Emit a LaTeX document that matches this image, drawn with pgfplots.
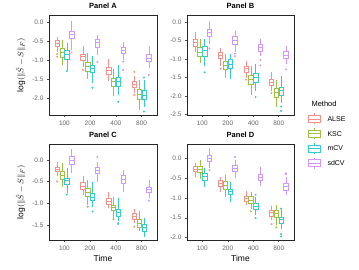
\documentclass[border=0pt]{standalone}
\usepackage{pgfplots}
\pgfplotsset{compat=1.18}
\usepgfplotslibrary{statistics}
\usepackage{fontspec}
\setmainfont{Liberation Sans}
\setsansfont{Liberation Sans}
\definecolor{cA0}{HTML}{F8766D}
\definecolor{cK0}{HTML}{7CAE00}
\definecolor{cM0}{HTML}{00BFC4}
\definecolor{cS0}{HTML}{C77CFF}
\colorlet{cA}{cA0!80!white}
\colorlet{cK}{cK0!75!white}
\colorlet{cM}{cM0!80!white}
\colorlet{cS}{cS0!80!white}
\pgfplotsset{
 panel/.style={scale only axis, width=108pt, anchor=south west,
  xmin=0.4, xmax=4.6, xtick={1,2,3,4}, xticklabels={100,200,400,800},
  tick align=outside, major tick length=2pt, xtick pos=bottom, ytick pos=left,
  tick style={color=black!70, line width=0.5pt},
  axis line style={black!85, line width=0.8pt},
  ticklabel style={font=\fontsize{6.5}{7}\selectfont, text=black!60},
  /pgf/number format/assume math mode=true,
  yticklabel style={/pgf/number format/fixed, /pgf/number format/fixed zerofill, /pgf/number format/precision=1},
  title style={font=\fontsize{7.5}{8}\selectfont\bfseries, yshift=-3pt},
  xlabel style={font=\fontsize{8.5}{9}\selectfont, yshift=2pt},
  ylabel style={font=\fontsize{8.5}{9}\selectfont, yshift=0pt},
  boxplot/draw direction=y, boxplot/box extend=0.17, boxplot/whisker extend=0,
 }
}
\newcommand{\bp}[8]{\addplot[draw=#2, fill=white, line width=0.55pt, mark=*, mark size=0.7pt, mark options={draw=#2, fill=#2, solid},
  boxplot prepared={draw position=#1, lower whisker=#3, lower quartile=#4, median=#5, upper quartile=#6, upper whisker=#7}] coordinates {#8};}
\begin{document}
\begin{tikzpicture}
\useasboundingbox (0,0) rectangle (359pt,270pt);
% Panel A
\begin{axis}[panel, at={(49pt,155pt)}, height=100pt, ymin=-2.44, ymax=0.2, ytick={-2,-1.5,-1,-0.5,0}, title={Panel A}, ylabel={$\log(\|\hat{S}-S\|_F)$}]
\bp{0.719}{cA}{-0.79}{-0.63}{-0.55}{-0.48}{-0.37}{(0,-0.83)(0,-0.9)}
\bp{0.906}{cK}{-1.12}{-0.92}{-0.78}{-0.68}{-0.46}{}
\bp{1.094}{cM}{-1.25}{-0.97}{-0.83}{-0.72}{-0.55}{(0,-1.28)}
\bp{1.281}{cS}{-0.72}{-0.41}{-0.31}{-0.22}{0.03}{(0,-0.79)}
\bp{1.719}{cA}{-1.16}{-0.99}{-0.9}{-0.83}{-0.62}{(0,-1.25)}
\bp{1.906}{cK}{-1.5}{-1.28}{-1.16}{-1.06}{-0.81}{}
\bp{2.094}{cM}{-1.59}{-1.32}{-1.21}{-1.12}{-0.88}{(0,-1.72)}
\bp{2.281}{cS}{-0.85}{-0.65}{-0.53}{-0.44}{-0.33}{(0,-1.04)}
\bp{2.719}{cA}{-1.53}{-1.36}{-1.27}{-1.18}{-0.97}{}
\bp{2.906}{cK}{-1.94}{-1.67}{-1.56}{-1.47}{-1.23}{}
\bp{3.094}{cM}{-1.91}{-1.67}{-1.54}{-1.44}{-1.12}{(0,-2.09)}
\bp{3.281}{cS}{-0.99}{-0.81}{-0.74}{-0.66}{-0.5}{(0,-1.03)(0,-1.25)}
\bp{3.719}{cA}{-1.87}{-1.71}{-1.63}{-1.56}{-1.41}{(0,-1.3)(0,-1.91)}
\bp{3.906}{cK}{-2.31}{-2.03}{-1.89}{-1.76}{-1.52}{}
\bp{4.094}{cM}{-2.22}{-2.03}{-1.91}{-1.8}{-1.52}{(0,-1.45)(0,-2.35)}
\bp{4.281}{cS}{-1.21}{-1.03}{-0.93}{-0.83}{-0.63}{(0,-1.38)}
\end{axis}
% Panel B
\begin{axis}[panel, at={(187pt,155pt)}, width=107pt, height=100pt, ymin=-2.52, ymax=0.2, ytick={-2.5,-2,-1.5,-1,-0.5,0}, title={Panel B}]
\bp{0.719}{cA}{-0.82}{-0.64}{-0.55}{-0.46}{-0.27}{}
\bp{0.906}{cK}{-1.1}{-0.92}{-0.81}{-0.69}{-0.44}{}
\bp{1.094}{cM}{-1.19}{-0.92}{-0.75}{-0.66}{-0.44}{(0,-1.36)}
\bp{1.281}{cS}{-0.6}{-0.38}{-0.27}{-0.18}{0.05}{(0,-0.71)}
\bp{1.719}{cA}{-1.19}{-0.99}{-0.9}{-0.81}{-0.69}{(0,-1.26)}
\bp{1.906}{cK}{-1.51}{-1.28}{-1.16}{-1.05}{-0.87}{}
\bp{2.094}{cM}{-1.54}{-1.26}{-1.14}{-1.01}{-0.87}{}
\bp{2.281}{cS}{-0.82}{-0.6}{-0.5}{-0.39}{-0.23}{(0,-0.85)(0,-0.92)}
\bp{2.719}{cA}{-1.51}{-1.36}{-1.26}{-1.19}{-1.05}{(0,-1.56)}
\bp{2.906}{cK}{-1.97}{-1.69}{-1.56}{-1.45}{-1.19}{}
\bp{3.094}{cM}{-1.88}{-1.63}{-1.49}{-1.39}{-1.14}{(0,-2.03)}
\bp{3.281}{cS}{-0.92}{-0.78}{-0.69}{-0.6}{-0.44}{(0,-1.03)(0,-1.17)}
\bp{3.719}{cA}{-1.88}{-1.72}{-1.63}{-1.56}{-1.36}{(0,-1.92)}
\bp{3.906}{cK}{-2.29}{-2.03}{-1.9}{-1.79}{-1.56}{}
\bp{4.094}{cM}{-2.2}{-1.97}{-1.85}{-1.76}{-1.45}{(0,-2.29)(0,-2.41)}
\bp{4.281}{cS}{-1.14}{-0.99}{-0.89}{-0.78}{-0.64}{(0,-1.28)}
\end{axis}
% Panel C
\begin{axis}[panel, at={(49pt,30pt)}, height=96pt, ymin=-1.85, ymax=0.37, ytick={-1.5,-1,-0.5,0}, title={Panel C}, xlabel={Time}, ylabel={$\log(\|\hat{S}-S\|_F)$}]
\bp{0.719}{cA}{-0.38}{-0.27}{-0.22}{-0.17}{-0.05}{(0,-0.5)}
\bp{0.906}{cK}{-0.62}{-0.45}{-0.35}{-0.27}{-0.08}{}
\bp{1.094}{cM}{-0.77}{-0.55}{-0.48}{-0.42}{-0.19}{(0,-0.8)}
\bp{1.281}{cS}{-0.29}{-0.09}{0.0}{0.09}{0.25}{}
\bp{1.719}{cA}{-0.81}{-0.68}{-0.6}{-0.52}{-0.37}{}
\bp{1.906}{cK}{-1.04}{-0.83}{-0.74}{-0.65}{-0.46}{(0,-1.08)}
\bp{2.094}{cM}{-1.09}{-0.94}{-0.87}{-0.78}{-0.5}{(0,-1.19)}
\bp{2.281}{cS}{-0.51}{-0.3}{-0.23}{-0.16}{-0.05}{(0,0.07)}
\bp{2.719}{cA}{-1.12}{-1.02}{-0.95}{-0.88}{-0.73}{}
\bp{2.906}{cK}{-1.35}{-1.17}{-1.09}{-1.04}{-0.85}{(0,-1.37)}
\bp{3.094}{cM}{-1.42}{-1.31}{-1.22}{-1.15}{-0.88}{(0,-1.46)(0,-1.48)}
\bp{3.281}{cS}{-0.73}{-0.54}{-0.45}{-0.35}{-0.22}{}
\bp{3.719}{cA}{-1.46}{-1.37}{-1.29}{-1.23}{-1.14}{(0,-1.54)}
\bp{3.906}{cK}{-1.65}{-1.55}{-1.46}{-1.38}{-1.18}{}
\bp{4.094}{cM}{-1.78}{-1.65}{-1.56}{-1.48}{-1.35}{}
\bp{4.281}{cS}{-0.88}{-0.75}{-0.68}{-0.62}{-0.46}{(0,-0.94)}
\end{axis}
% Panel D
\begin{axis}[panel, at={(187pt,30pt)}, width=107pt, height=96pt, ymin=-2.06, ymax=0.36, ytick={-2,-1.5,-1,-0.5,0}, title={Panel D}, xlabel={Time}]
\bp{0.719}{cA}{-0.48}{-0.34}{-0.28}{-0.21}{-0.11}{}
\bp{0.906}{cK}{-0.53}{-0.36}{-0.28}{-0.19}{-0.04}{}
\bp{1.094}{cM}{-0.73}{-0.55}{-0.46}{-0.39}{-0.25}{}
\bp{1.281}{cS}{-0.25}{-0.08}{0.0}{0.08}{0.25}{(0,-0.3)}
\bp{1.719}{cA}{-0.84}{-0.7}{-0.63}{-0.56}{-0.46}{}
\bp{1.906}{cK}{-0.97}{-0.78}{-0.67}{-0.59}{-0.42}{}
\bp{2.094}{cM}{-1.09}{-0.92}{-0.84}{-0.78}{-0.61}{}
\bp{2.281}{cS}{-0.5}{-0.34}{-0.25}{-0.17}{-0.05}{(0,0.03)}
\bp{2.719}{cA}{-1.18}{-1.09}{-1.01}{-0.95}{-0.82}{}
\bp{2.906}{cK}{-1.29}{-1.13}{-1.05}{-0.97}{-0.84}{(0,-1.34)}
\bp{3.094}{cM}{-1.43}{-1.29}{-1.2}{-1.13}{-0.97}{(0,-0.92)(0,-1.51)}
\bp{3.281}{cS}{-0.7}{-0.56}{-0.48}{-0.4}{-0.23}{}
\bp{3.719}{cA}{-1.55}{-1.45}{-1.37}{-1.3}{-1.2}{(0,-1.66)}
\bp{3.906}{cK}{-1.68}{-1.49}{-1.39}{-1.32}{-1.18}{(0,-1.74)}
\bp{4.094}{cM}{-1.79}{-1.64}{-1.55}{-1.49}{-1.29}{(0,-1.27)(0,-1.91)(0,-1.97)}
\bp{4.281}{cS}{-0.92}{-0.8}{-0.71}{-0.63}{-0.46}{(0,-0.4)(0,-0.38)}
\end{axis}
% Legend
\node[anchor=west, font=\fontsize{7.5}{8}\selectfont] at (308pt,166pt) {Method};
\foreach \c/\t [count=\i from 0] in {cA/ALSE, cK/KSC, cM/mCV, cS/sdCV}{
  \pgfmathsetmacro{\yy}{151-14.7*\i}
  \draw[\c, line width=0.55pt, fill=white] (308pt,\yy pt-3.5pt) rectangle (320pt,\yy pt+3.5pt);
  \draw[\c, line width=0.55pt] (308pt,\yy pt) -- (320pt,\yy pt);
  \draw[\c, line width=0.55pt] (314pt,\yy pt+3.5pt) -- (314pt,\yy pt+5.5pt);
  \draw[\c, line width=0.55pt] (314pt,\yy pt-3.5pt) -- (314pt,\yy pt-5.5pt);
  \node[anchor=west, font=\fontsize{7}{8}\selectfont] at (324pt,\yy pt) {\t};
}
\end{tikzpicture}
\end{document}
